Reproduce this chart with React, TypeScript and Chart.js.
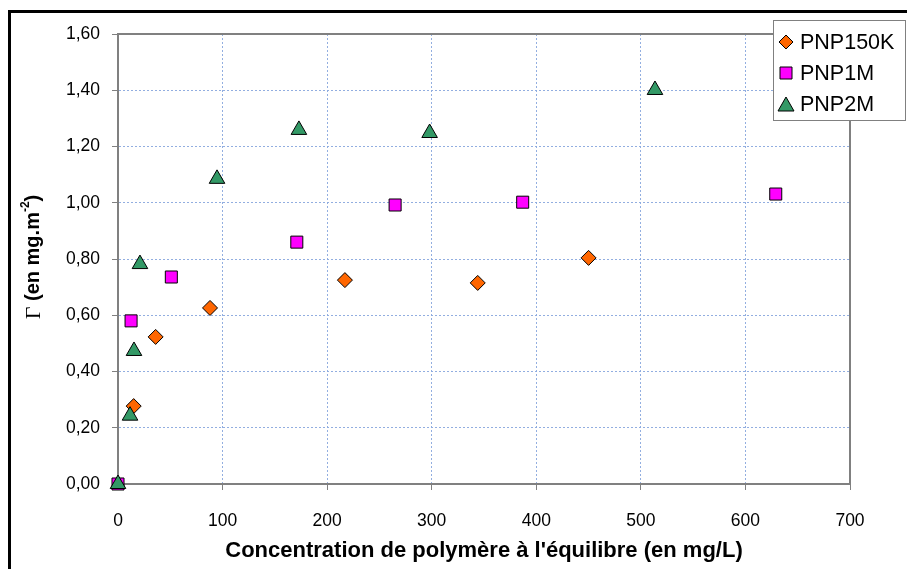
import React, { useEffect, useRef } from 'react';
import { Chart, registerables } from 'chart.js';

Chart.register(...registerables);

// ---- data ----
const seriesNames = ['PNP150K', 'PNP1M', 'PNP2M'];
const seriesColors = ['#FF6600', '#FF00FF', '#339966'];

const pnp150kX = [15, 36, 88, 217, 344, 450];
const pnp150kY = [0.277, 0.523, 0.626, 0.725, 0.715, 0.804];

const pnp1mX = [0, 12.5, 51, 171, 265, 387, 629];
const pnp1mY = [0, 0.58, 0.736, 0.86, 0.992, 1.002, 1.031];

const pnp2mX = [0, 11.5, 15.3, 21, 94.7, 173, 298, 513.5];
const pnp2mY = [0, 0.243, 0.473, 0.782, 1.085, 1.259, 1.248, 1.401];

const xMin = 0;
const xMax = 700;
const xStep = 100;
const yMin = 0;
const yMax = 1.6;
const yStep = 0.2;

const xTitle = "Concentration de polymère à l'équilibre (en mg/L)";
const yTitleGamma = 'Γ';
const yTitleMain = ' (en mg.m';
const yTitleSup = '-2';
const yTitleEnd = ')';

const FONT = '"Liberation Sans", Arial, sans-serif';

function toPoints(xs: number[], ys: number[]) {
  return xs.map((x, i) => ({ x, y: ys[i] }));
}

function drawMarker(ctx: CanvasRenderingContext2D, kind: number, x: number, y: number, color: string) {
  ctx.save();
  ctx.fillStyle = color;
  ctx.strokeStyle = '#000';
  ctx.lineWidth = 1;
  ctx.beginPath();
  if (kind === 0) {
    const r = 7;
    ctx.moveTo(x - r, y);
    ctx.lineTo(x, y - r);
    ctx.lineTo(x + r, y);
    ctx.lineTo(x, y + r);
    ctx.closePath();
  } else if (kind === 1) {
    const s = 6;
    ctx.rect(x - s, y - s, 2 * s, 2 * s);
  } else {
    const w = 8, h = 7;
    ctx.moveTo(x, y - h);
    ctx.lineTo(x + w, y + h);
    ctx.lineTo(x - w, y + h);
    ctx.closePath();
  }
  ctx.fill();
  ctx.stroke();
  ctx.restore();
}

const framePlugin = {
  id: 'framePlugin',
  beforeDraw(chart: any) {
    const ctx = chart.ctx as CanvasRenderingContext2D;
    ctx.save();
    ctx.fillStyle = '#fff';
    ctx.fillRect(0, 0, chart.width, chart.height);
    ctx.strokeStyle = '#000';
    ctx.lineWidth = 3;
    ctx.beginPath();
    ctx.moveTo(9.5, chart.height);
    ctx.lineTo(9.5, 11.5);
    ctx.lineTo(chart.width, 11.5);
    ctx.stroke();
    ctx.restore();
  },
  beforeDatasetsDraw(chart: any) {
    const ctx = chart.ctx as CanvasRenderingContext2D;
    const a = chart.chartArea;
    ctx.save();
    ctx.strokeStyle = '#808080';
    ctx.lineWidth = 2;
    ctx.strokeRect(a.left, a.top, a.right - a.left, a.bottom - a.top);
    ctx.restore();

    // y title with mixed fonts
    ctx.save();
    ctx.translate(33, 257);
    ctx.rotate(-Math.PI / 2);
    ctx.fillStyle = '#000';
    ctx.textBaseline = 'middle';
    ctx.textAlign = 'left';
    const fG = '22px "Liberation Serif", "Times New Roman", serif';
    const fM = 'bold 20px ' + FONT;
    const fS = 'bold 12px ' + FONT;
    ctx.font = fG; const wG = ctx.measureText(yTitleGamma).width;
    ctx.font = fM; const wM = ctx.measureText(yTitleMain).width;
    ctx.font = fS; const wS = ctx.measureText(yTitleSup).width;
    ctx.font = fM; const wE = ctx.measureText(yTitleEnd).width;
    let x = -(wG + wM + wS + wE) / 2;
    ctx.font = fG; ctx.fillText(yTitleGamma, x, 1); x += wG;
    ctx.font = fM; ctx.fillText(yTitleMain, x, 0); x += wM;
    ctx.font = fS; ctx.fillText(yTitleSup, x, -7); x += wS;
    ctx.font = fM; ctx.fillText(yTitleEnd, x, 0);
    ctx.restore();
  },
  afterDraw(chart: any) {
    const ctx = chart.ctx as CanvasRenderingContext2D;
    ctx.save();
    ctx.fillStyle = '#fff';
    ctx.strokeStyle = '#808080';
    ctx.lineWidth = 1;
    ctx.fillRect(773.5, 20.5, 132, 100);
    ctx.strokeRect(773.5, 20.5, 132, 100);
    ctx.font = '21.5px ' + FONT;
    ctx.fillStyle = '#000';
    ctx.textBaseline = 'middle';
    ctx.textAlign = 'left';
    const rows = [42, 73, 104];
    seriesNames.forEach((name, i) => {
      drawMarker(ctx, i, 786, rows[i], seriesColors[i]);
      ctx.fillText(name, 800, rows[i] + 1);
    });
    ctx.restore();
  },
};

export default function App() {
  const ref = useRef<HTMLCanvasElement | null>(null);

  useEffect(() => {
    if (!ref.current) return;
    const gridColor = 'rgba(140,170,222,0.95)';
    const chart = new Chart(ref.current, {
      type: 'scatter',
      data: {
        datasets: [
          {
            label: seriesNames[0],
            data: toPoints(pnp150kX, pnp150kY),
            pointStyle: 'rectRot',
            pointRadius: 7.5,
            pointHoverRadius: 7.5,
            backgroundColor: seriesColors[0],
            borderColor: '#000',
            borderWidth: 1,
            clip: false,
            order: 2,
          },
          {
            label: seriesNames[1],
            data: toPoints(pnp1mX, pnp1mY),
            pointStyle: 'rect',
            pointRadius: 8.5,
            pointHoverRadius: 8.5,
            backgroundColor: seriesColors[1],
            borderColor: '#000',
            borderWidth: 1,
            clip: false,
            order: 1,
          },
          {
            label: seriesNames[2],
            data: toPoints(pnp2mX, pnp2mY),
            pointStyle: 'triangle',
            pointRadius: 9,
            pointHoverRadius: 9,
            backgroundColor: seriesColors[2],
            borderColor: '#000',
            borderWidth: 1,
            clip: false,
            order: 0,
          },
        ],
      },
      options: {
        animation: false,
        responsive: false,
        maintainAspectRatio: false,
        layout: { padding: { left: 0, top: 34, right: 57, bottom: 0 } },
        plugins: {
          legend: { display: false },
          tooltip: { enabled: false },
          title: { display: false },
        },
        scales: {
          x: {
            type: 'linear',
            min: xMin,
            max: xMax,
            afterFit: (s: any) => { s.height = 85; },
            ticks: {
              stepSize: xStep,
              color: '#000',
              font: { family: FONT, size: 17.5 },
              padding: 21,
              maxRotation: 0,
            },
            grid: {
              color: gridColor,
              lineWidth: 1,
              tickColor: '#808080',
              tickLength: 6,
              tickWidth: 1,
            },
            border: { color: '#808080', width: 2, dash: [2, 2] },
            title: {
              display: true,
              text: xTitle,
              color: '#000',
              font: { family: FONT, size: 22, weight: 'bold' },
              padding: { top: 0, bottom: 5 },
            },
          },
          y: {
            type: 'linear',
            min: yMin,
            max: yMax,
            afterFit: (s: any) => { s.width = 118; },
            ticks: {
              stepSize: yStep,
              color: '#000',
              font: { family: FONT, size: 17.5 },
              padding: 12,
              callback: (v: any) => Number(v).toFixed(2).replace('.', ','),
            },
            grid: {
              color: gridColor,
              lineWidth: 1,
              tickColor: '#808080',
              tickLength: 6,
              tickWidth: 1,
            },
            border: { color: '#808080', width: 2, dash: [2, 2] },
          },
        },
      },
      plugins: [framePlugin],
    } as any);
    return () => chart.destroy();
  }, []);

  return (
    <div style={{ position: 'fixed', left: 0, top: 0, width: 907, height: 569 }}>
      <canvas ref={ref} width={907} height={569} style={{ width: 907, height: 569, display: 'block' }} />
    </div>
  );
}
